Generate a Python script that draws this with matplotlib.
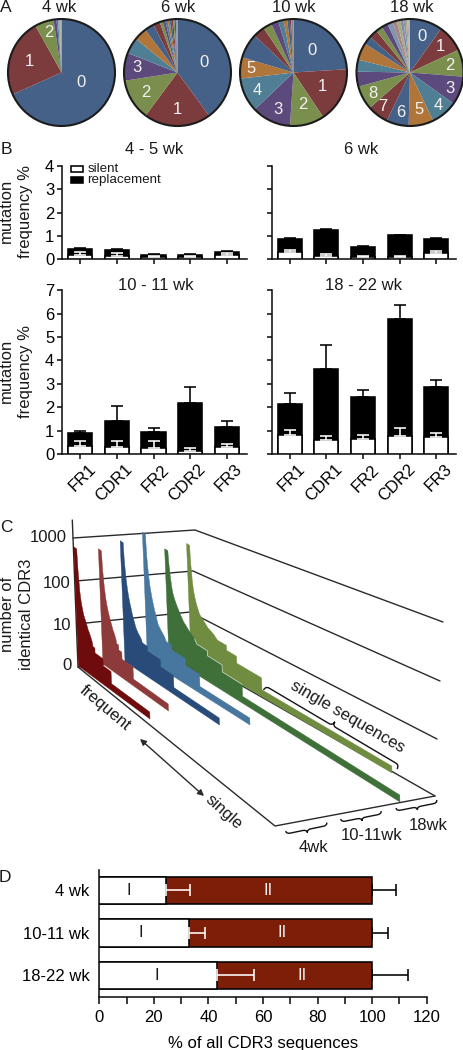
import numpy as np
import matplotlib
matplotlib.use('Agg')
import matplotlib.pyplot as plt
from matplotlib.path import Path
from matplotlib.patches import PathPatch, Circle, Polygon, Rectangle
from matplotlib.transforms import ScaledTranslation

plt.rcParams['font.family'] = ['Liberation Sans', 'DejaVu Sans']
plt.rcParams['text.color'] = '#1a1a1a'

W, H = 464, 1050
FS = 12
LW = 1.15

# A: clone share per pie, %
pie_titles = ['4 wk', '6 wk', '10 wk', '18 wk']
pie_4wk = [68.3, 23.6, 5.7, 0.9, 0.5, 0.3, 0.2, 0.2, 0.1, 0.1, 0.1]
pie_6wk = [40.0, 20.2, 12.4, 8.4, 4.9, 3.9, 2.9, 2.0, 0.9, 0.8, 0.7, 0.6, 0.6, 0.5, 0.4, 0.4, 0.3, 0.2]
pie_10wk = [24.0, 16.6, 10.4, 11.8, 10.3, 6.4, 7.5, 3.5, 2.6, 2.2, 1.6, 1.1, 0.8, 0.4, 0.3, 0.2, 0.2]
pie_18wk = [9.8, 8.2, 8.2, 8.6, 8.0, 7.5, 6.7, 6.4, 7.2, 4.5, 3.6, 5.2, 2.5, 2.6, 2.0, 1.9, 1.6, 1.3,
            1.1, 0.9, 0.7, 0.5, 0.4, 0.2, 0.2]
pie_colors = ['#466188', '#7c3b3c', '#7a8f4e', '#5c4a7c', '#4f7e95', '#b07539']
pie_tail = ['#8094b0', '#a88484', '#a0ac84', '#8f86a4', '#7f9fae', '#bc9c7a', '#aaaaaa', '#b8b8b8']

# B: mutation frequency
regions = ['FR1', 'CDR1', 'FR2', 'CDR2', 'FR3']
total_4wk = [0.44, 0.39, 0.19, 0.19, 0.31]
total_err_4wk = [0.50, 0.46, 0.21, 0.21, 0.36]
silent_4wk = [0.19, 0.14, 0.09, 0.09, 0.17]
silent_err_4wk = [0.33, 0.25, 0.14, 0.14, 0.27]
total_6wk = [0.87, 1.27, 0.54, 1.03, 0.88]
total_err_6wk = [0.90, 1.28, 0.57, 1.04, 0.91]
silent_6wk = [0.31, 0.14, 0.09, 0.09, 0.26]
silent_err_6wk = [0.41, 0.23, 0.16, 0.16, 0.37]
total_10wk = [0.88, 1.42, 0.95, 2.20, 1.17]
total_err_10wk = [0.98, 2.05, 1.12, 2.86, 1.39]
silent_10wk = [0.36, 0.28, 0.26, 0.13, 0.30]
silent_err_10wk = [0.55, 0.55, 0.55, 0.26, 0.43]
total_18wk = [2.15, 3.63, 2.45, 5.76, 2.85]
total_err_18wk = [2.60, 4.65, 2.73, 6.39, 3.16]
silent_18wk = [0.81, 0.61, 0.64, 0.75, 0.73]
silent_err_18wk = [1.01, 0.75, 0.81, 1.10, 0.90]

# C: CDR3 counts by rank, count + how many clones have it
s1_count = [640, 200, 60, 34, 24, 18, 15, 13, 11, 9, 8, 7, 6, 5, 4, 3, 2, 1]
s1_run = [3, 1, 1, 1, 1, 1, 1, 1, 1, 1, 1, 1, 1, 1, 2, 8, 8, 39]
s2_count = [510, 180, 70, 38, 26, 19, 15, 12, 10, 8, 7, 6, 5, 4, 3, 2, 1]
s2_run = [3, 1, 1, 1, 1, 1, 1, 1, 1, 1, 1, 1, 1, 2, 3, 11, 35]
s3_count = [700, 250, 100, 55, 36, 26, 20, 15, 12, 10, 8, 7, 6, 5, 4, 3, 2, 1]
s3_run = [3, 1, 1, 1, 1, 1, 1, 1, 1, 1, 1, 1, 2, 3, 5, 13, 13, 46]
s4_count = [1050, 300, 110, 60, 40, 28, 21, 16, 13, 10, 8, 7, 6, 5, 4, 3, 2, 1]
s4_run = [3, 1, 1, 1, 1, 1, 1, 1, 1, 1, 1, 2, 2, 3, 5, 14, 14, 50]
s5_count = [340, 170, 80, 45, 32, 24, 18, 14, 11, 9, 8, 7, 6, 5, 4, 3, 2, 1]
s5_run = [3, 1, 1, 1, 1, 2, 2, 2, 2, 2, 2, 2, 3, 4, 10, 14, 19, 151]
s6_count = [410, 150, 50, 30, 22, 17, 14, 12, 10, 9, 8, 7, 6, 5, 4, 3, 2, 1]
s6_run = [3, 1, 1, 1, 1, 1, 1, 1, 1, 2, 2, 2, 3, 8, 9, 10, 25, 131]
cdr3_counts = [s1_count, s2_count, s3_count, s4_count, s5_count, s6_count]
cdr3_runs = [s1_run, s2_run, s3_run, s4_run, s5_run, s6_run]
cdr3_colors = ['#6e0b0c', '#8d3a3a', '#284b79', '#47769e', '#3f7039', '#708c40']
cdr3_ticks = ['1000', '100', '10', '0']

# D: share of all CDR3 sequences
age_labels = ['18-22 wk', '10-11 wk', '4 wk']
type1 = [43.1, 32.9, 24.3]
type1_err = [56.7, 38.8, 33.2]
type2_total = [100, 100, 100]
type2_err = [113.3, 105.7, 108.8]
type1_text_x = [21.2, 15.2, 10.9]
type2_text_x = [74.5, 67.0, 61.7]


def px_axes(fig, x0, y0, x1, y1):
    # axes from picture pixels, y going down
    return fig.add_axes([x0 / W, 1 - y1 / H, (x1 - x0) / W, (y1 - y0) / H])


def draw_pie(fig, cx, cy, r, values, labels, label_pos):
    ax = px_axes(fig, cx - r, cy - r, cx + r, cy + r)
    n = len(pie_colors)
    cols = [pie_colors[i % n] for i in range(min(len(values), 16))]
    cols += [pie_tail[i % len(pie_tail)] for i in range(len(values) - len(cols))]
    if len(values) < 12:
        cols = pie_colors[:3] + ['#5c4a7c', '#4f7e95'] + pie_tail[:len(values) - 5]
    ax.pie(values, colors=cols, startangle=90, counterclock=False, radius=1.0, normalize=True)
    ax.add_patch(Circle((0, 0), 1.0, fill=False, ec='#1c1c1c', lw=1.5, clip_on=False))
    ax.set_xlim(-1, 1)
    ax.set_ylim(-1, 1)
    ax.set_aspect('equal')
    for lab, (tx, ty) in zip(labels, label_pos):
        ax.text(tx, ty, lab, color='#f2f2f2', fontsize=FS, ha='center', va='center')


def draw_mut(fig, x0, y0, x1, y1, ymax, total, total_err, silent, silent_err, show_y, rotate):
    ax = px_axes(fig, x0, y0, x1, y1)
    x = np.arange(5)
    ax.set_xlim(-0.5, (x1 - x0) / 36.6 - 0.5)
    ax.set_ylim(0, ymax)
    ax.bar(x, total, width=0.66, color='black', edgecolor='black', lw=LW, zorder=2)
    ax.errorbar(x, total, yerr=[np.zeros(5), np.array(total_err) - np.array(total)], fmt='none',
                ecolor='black', elinewidth=LW, capsize=4.5, capthick=LW, zorder=2)
    ax.bar(x, silent, width=0.66, color='white', edgecolor='black', lw=LW, zorder=3)
    ax.errorbar(x, silent, yerr=[np.zeros(5), np.array(silent_err) - np.array(silent)], fmt='none',
                ecolor='white', elinewidth=LW, capsize=4.5, capthick=LW, zorder=4)
    for s in ['top', 'right']:
        ax.spines[s].set_visible(False)
    for s in ['left', 'bottom']:
        ax.spines[s].set_linewidth(LW)
        ax.spines[s].set_color('#111111')
    ax.set_yticks(np.arange(0, ymax + 1))
    ax.set_xticks(x)
    ax.tick_params(width=LW, length=3.6, labelsize=FS, color='#111111', pad=2)
    if not show_y:
        ax.set_yticklabels([])
    if rotate:
        ax.set_xticklabels(regions, rotation=45, ha='right', rotation_mode='anchor')
        shift = ScaledTranslation(8 / 100, 0, fig.dpi_scale_trans)
        for lab in ax.get_xticklabels():
            lab.set_transform(lab.get_transform() + shift)
    else:
        ax.set_xticklabels([])
    return ax


def brace(ax, p0, p1, depth, a=4.0):
    # curly brace in picture pixels, depth is to the side of the tip
    p0 = np.array(p0, float)
    p1 = np.array(p1, float)
    u = (p1 - p0) / np.hypot(*(p1 - p0))
    n = np.array([-u[1], u[0]])
    L = np.hypot(*(p1 - p0))
    local = [(0, 0), (0, depth / 2), (a, depth / 2), (L / 2 - a, depth / 2), (L / 2, depth / 2), (L / 2, depth),
             (L / 2, depth / 2), (L / 2 + a, depth / 2), (L - a, depth / 2), (L, depth / 2), (L, 0)]
    verts = [p0 + u * s + n * t for s, t in local]
    codes = [Path.MOVETO, Path.CURVE3, Path.CURVE3, Path.LINETO, Path.CURVE3, Path.CURVE3,
             Path.CURVE3, Path.CURVE3, Path.LINETO, Path.CURVE3, Path.CURVE3]
    ax.add_patch(PathPatch(Path(verts, codes), fc='none', ec='#111111', lw=1.0, zorder=3))


def count_height(v):
    # log axis of panel C, single sequences keep a thin strip
    return 7 + 40 * np.log10(v)


def draw_cdr3(ax, start, end, counts, runs, color, rim=False):
    start = np.array(start, float)
    end = np.array(end, float)
    total = float(sum(runs))
    top = []
    pos = 0
    for i, (v, r) in enumerate(zip(counts, runs)):
        h = count_height(v)
        # big counts run together as a curve, only the low ones show as steps
        if i == 0:
            ts = (pos, pos + r)
        elif v >= 5:
            ts = (pos + r / 2.0,)
        else:
            ts = (pos, pos + r)
        for t in ts:
            b = start + (end - start) * t / total
            # the wall leans back a little, same as the count axis
            top.append((b[0] - 0.04 * h, b[1] - h))
        pos += r
    pts = [tuple(start)] + top + [tuple(end)]
    ax.add_patch(Polygon(pts, closed=True, fc=color, ec=color, lw=0.3, joinstyle='round', zorder=2))
    if rim:
        # thin light line between the two green walls
        xs, ys = zip(*top[14:-2])
        ax.plot(xs, ys, color='white', lw=0.5, alpha=0.8, zorder=2)


def main():
    fig = plt.figure(figsize=(W / 100, H / 100), dpi=100)
    over = fig.add_axes([0, 0, 1, 1])
    over.set_xlim(0, W)
    over.set_ylim(H, 0)
    over.axis('off')
    over.set_zorder(10)

    # panel letters
    for s, x, y in [('A', 6, 8), ('B', 6, 149), ('C', 6, 527), ('D', 5, 877)]:
        over.text(x, y, s, fontsize=12.5, ha='center', va='center')

    # A
    draw_pie(fig, 61.5, 72.5, 53.5, pie_4wk, ['0', '1', '2'],
             [(0.37, -0.19), (-0.6, 0.2), (-0.24, 0.74)])
    draw_pie(fig, 177.5, 72.5, 53.5, pie_6wk, ['0', '1', '2', '3'],
             [(0.49, 0.19), (0, -0.69), (-0.6, -0.37), (-0.75, 0.09)])
    draw_pie(fig, 293.5, 72.5, 53.5, pie_10wk, ['0', '1', '2', '3', '4', '5'],
             [(0.34, 0.42), (0.54, -0.27), (0.17, -0.6), (-0.3, -0.69), (-0.67, -0.34), (-0.79, 0.07)])
    draw_pie(fig, 410, 72.5, 53.5, pie_18wk, ['0', '1', '2', '3', '4', '5', '6', '7', '8'],
             [(0.22, 0.67), (0.57, 0.48), (0.74, 0.14), (0.74, -0.29), (0.52, -0.62), (0.17, -0.69),
              (-0.17, -0.74), (-0.5, -0.64), (-0.7, -0.39)])
    for t, x in zip(pie_titles, [59, 178, 294, 412]):
        over.text(x, 7.5, t, fontsize=FS, ha='center', va='center')

    # B
    draw_mut(fig, 62, 166, 247, 259.3, 4, total_4wk, total_err_4wk, silent_4wk, silent_err_4wk, True, False)
    draw_mut(fig, 271.5, 166, 456, 259.3, 4, total_6wk, total_err_6wk, silent_6wk, silent_err_6wk, False, False)
    draw_mut(fig, 62, 290.3, 247, 454, 7, total_10wk, total_err_10wk, silent_10wk, silent_err_10wk, True, True)
    draw_mut(fig, 271.5, 290.3, 456, 454, 7, total_18wk, total_err_18wk, silent_18wk, silent_err_18wk, False, True)
    for t, x, y in [('4 - 5 wk', 154, 149), ('6 wk', 361, 149), ('10 - 11 wk', 155.5, 285), ('18 - 22 wk', 364, 285)]:
        over.text(x, y, t, fontsize=FS, ha='center', va='center')
    for y in [211, 371]:
        over.text(16, y, 'mutation\nfrequency %', fontsize=FS, rotation=90, ha='center', va='center', linespacing=1.3)
    over.add_patch(Rectangle((71, 166), 12, 6.3, fc='white', ec='black', lw=LW, zorder=5))
    over.add_patch(Rectangle((71, 177), 12, 6, fc='black', ec='black', lw=LW, zorder=5))
    over.text(87.5, 168.5, 'silent', fontsize=9.6, ha='left', va='center', zorder=5)
    over.text(87.5, 179.5, 'replacement', fontsize=9.6, ha='left', va='center', zorder=5)

    # C frame
    line = dict(color='#2a2a2a', lw=1.0, solid_capstyle='round', zorder=1)
    back = [(73, 538), (76, 581), (77, 624), (78, 667)]
    mid = [(195, 530), (193, 571), (190, 612), (188, 655)]
    far = [(443, 622), (440, 681), (437, 739), (435, 796)]
    for a, b, c in zip(back, mid, far):
        over.plot([a[0], b[0], c[0]], [a[1], b[1], c[1]], **line)
    over.plot([72.3, 78, 275, 435], [520, 667, 826, 796], **line)
    for lab, x, y in zip(cdr3_ticks, [67, 71, 71, 72], [537, 583, 625, 665]):
        over.text(x, y, lab, fontsize=FS, ha='right', va='center')
    over.text(17, 614, 'number of\nidentical CDR3', fontsize=FS, rotation=90, ha='center', va='center', linespacing=1.3)

    # C staircases, far one first
    starts = [(78.5, 666), (103, 664), (125, 661.5), (147.5, 660), (169, 657), (191, 655)]
    ends = [(150, 719), (168.5, 711), (219.5, 725), (250, 725), (400, 802), (392, 773)]
    for i in range(5, -1, -1):
        draw_cdr3(over, starts[i], ends[i], cdr3_counts[i], cdr3_runs[i], cdr3_colors[i], rim=(i == 4))

    over.text(105, 708, 'frequent', fontsize=FS, rotation=-40, ha='center', va='center', rotation_mode='anchor')
    over.text(224, 812, 'single', fontsize=FS, rotation=-42, ha='center', va='center', rotation_mode='anchor')
    over.annotate('', xy=(140, 739), xytext=(204, 796),
                  arrowprops=dict(arrowstyle='<|-|>', color='#2a2a2a', lw=1.0, shrinkA=0, shrinkB=0, mutation_scale=9))
    over.text(348, 717, 'single sequences', fontsize=FS, rotation=-30, ha='center', va='center', rotation_mode='anchor')
    brace(over, (263.5, 690), (397, 769), -9)
    brace(over, (285.7, 831), (326.7, 822.5), 6)
    brace(over, (340.7, 819), (381, 811), 6)
    brace(over, (396, 808), (436.7, 800), 6)
    for t, x, y in [('4wk', 313, 847), ('10-11wk', 371.7, 836), ('18wk', 428, 825)]:
        over.text(x, y, t, fontsize=FS, ha='center', va='center')

    # D
    ax = px_axes(fig, 99.3, 870, 426.7, 996.7)
    y = np.arange(3)
    ax.barh(y, type2_total, height=0.65, color='#7d1e08', edgecolor='black', lw=LW, zorder=2)
    ax.errorbar(type2_total, y, xerr=[np.zeros(3), np.array(type2_err) - np.array(type2_total)], fmt='none',
                ecolor='black', elinewidth=LW, capsize=4.5, capthick=LW, zorder=2)
    ax.barh(y, type1, height=0.65, color='white', edgecolor='black', lw=LW, zorder=3)
    ax.errorbar(type1, y, xerr=[np.zeros(3), np.array(type1_err) - np.array(type1)], fmt='none',
                ecolor='white', elinewidth=LW, capsize=4.5, capthick=LW, zorder=4)
    ax.set_xlim(0, 120)
    ax.set_ylim(-0.5, 2.48)
    ax.set_yticks(y)
    ax.set_yticklabels(age_labels)
    ax.set_xticks(np.arange(0, 121, 20))
    ax.set_xticks(np.arange(10, 120, 20), minor=True)
    ax.tick_params(axis='y', length=0, labelsize=FS, pad=7)
    ax.tick_params(axis='x', which='both', length=4.8, width=LW, labelsize=FS, pad=5, color='#111111')
    ax.set_xlabel('% of all CDR3 sequences', fontsize=FS, labelpad=8)
    for s in ['top', 'right']:
        ax.spines[s].set_visible(False)
    for s in ['left', 'bottom']:
        ax.spines[s].set_linewidth(LW)
        ax.spines[s].set_color('#111111')
    for i in y:
        ax.text(type1_text_x[i], i, 'I', fontsize=FS, ha='center', va='center', zorder=6)
        ax.text(type2_text_x[i], i, 'II', fontsize=FS, color='#f0f0f0', ha='center', va='center', zorder=6)

    fig.savefig('out.png', dpi=100)
    plt.close()


################################################################################
if __name__ == '__main__':
    main()
